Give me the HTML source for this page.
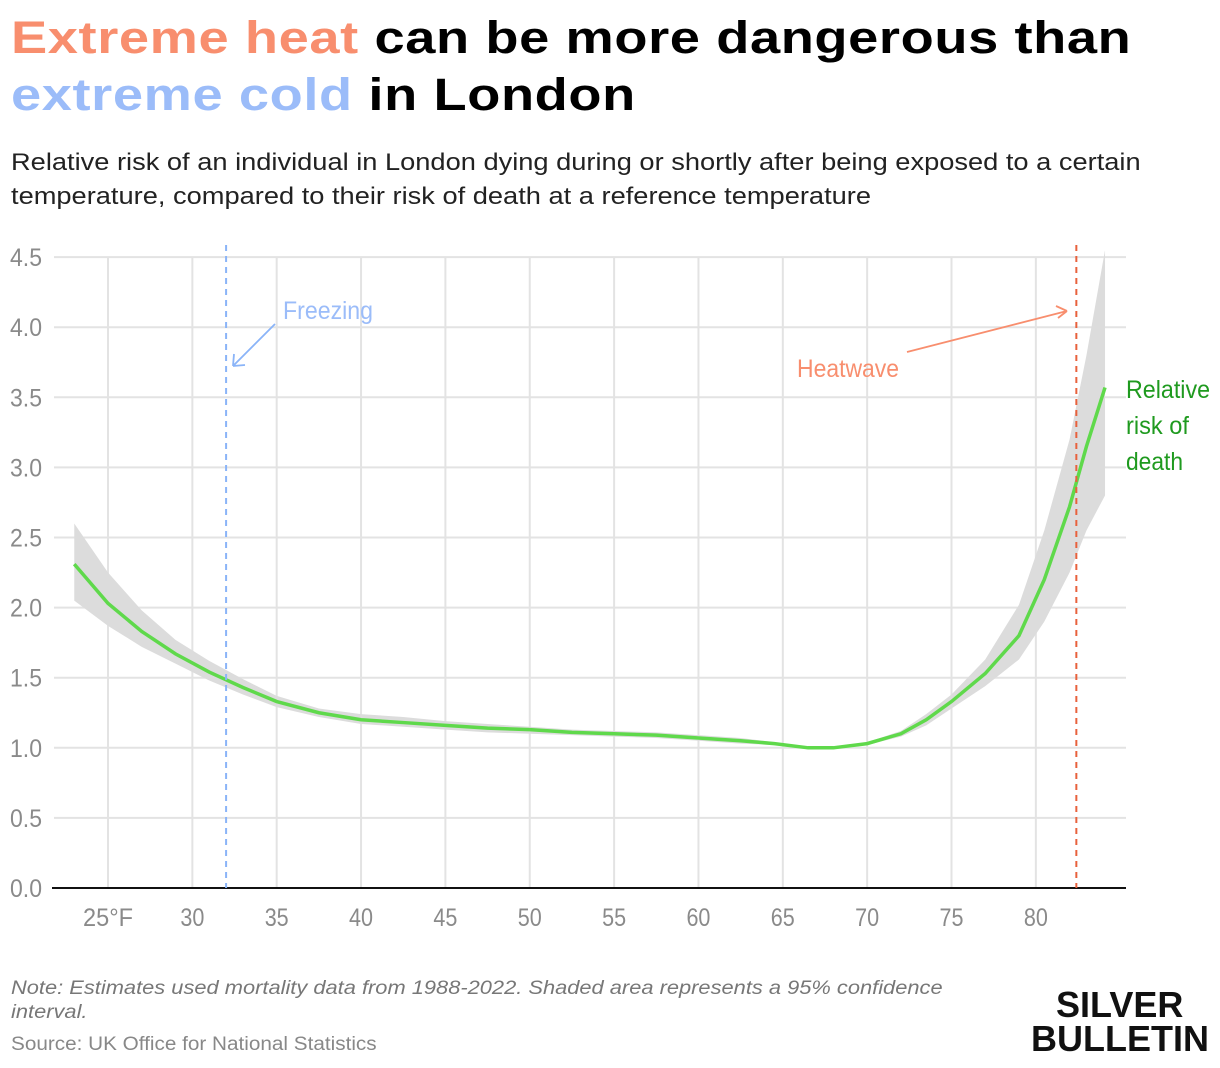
<!DOCTYPE html>
<html><head><meta charset="utf-8"><style>
body{margin:0;background:#fff;width:1220px;height:1068px;overflow:hidden;font-family:"Liberation Sans",sans-serif}
.t{position:absolute;left:11px;font-weight:bold;font-size:45px;letter-spacing:0.5px;color:#000;white-space:nowrap;transform:scaleX(1.205);transform-origin:left}
</style></head><body>
<div class="t" style="top:12px"><span style="color:#f88e6e">Extreme heat</span> can be more dangerous than</div>
<div class="t" style="top:69px"><span style="color:#9bbcf9">extreme cold</span> in London</div>
<div style="position:absolute;left:11px;top:146px;font-size:24px;line-height:34px;color:#222;white-space:nowrap;transform:scaleX(1.135);transform-origin:left">Relative risk of an individual in London dying during or shortly after being exposed to a certain<br>temperature, compared to their risk of death at a reference temperature</div>
<svg id="chart" width="1220" height="1068" style="position:absolute;left:0;top:0"></svg>
<div style="position:absolute;left:11px;top:977px;font-size:19px;font-style:italic;color:#777;line-height:24px;white-space:nowrap;transform:scaleX(1.15);transform-origin:left">Note: Estimates used mortality data from 1988-2022. Shaded area represents a 95% confidence<br>interval.</div>
<div style="position:absolute;left:11px;top:1034px;font-size:19px;color:#888;white-space:nowrap;transform:scaleX(1.09);transform-origin:left">Source: UK Office for National Statistics</div>
<div style="position:absolute;left:1031px;top:988px;font-size:36px;font-weight:bold;line-height:34px;color:#111;white-space:nowrap;transform:scaleX(1.0);transform-origin:left"><span style="padding-left:25px">SILVER</span><br>BULLETIN</div>
<script>
const temps=[23,25,27,29,31,33,35,37.5,40,42.5,45,47.5,50,52.5,55,57.5,60,62.5,64.5,66.5,68,70,72,73.5,75,77,79,80.5,82,83,84.1];
const risk=[2.31,2.03,1.83,1.67,1.54,1.43,1.33,1.25,1.2,1.18,1.16,1.14,1.13,1.11,1.1,1.09,1.07,1.05,1.03,1.0,1.0,1.03,1.1,1.2,1.33,1.53,1.8,2.2,2.72,3.15,3.57];
const upper=[2.6,2.25,1.98,1.77,1.62,1.49,1.37,1.28,1.24,1.22,1.19,1.17,1.15,1.13,1.12,1.11,1.09,1.07,1.04,1.01,1.01,1.04,1.12,1.24,1.38,1.63,2.02,2.55,3.2,3.8,4.55];
const lower=[2.05,1.87,1.72,1.6,1.48,1.38,1.29,1.22,1.17,1.15,1.13,1.11,1.1,1.09,1.08,1.07,1.05,1.03,1.02,0.99,0.99,1.02,1.08,1.16,1.28,1.44,1.63,1.9,2.25,2.55,2.8];
const xTicks=[25,30,35,40,45,50,55,60,65,70,75,80];
const yTicks=[0,0.5,1,1.5,2,2.5,3,3.5,4,4.5];
const freezeT=32, heatT=82.4;
const X=t=>108+(t-25)*16.87, Y=v=>888-v*140.2;
const svg=document.getElementById('chart'),NS='http://www.w3.org/2000/svg';
function mk(tag,a,name){const e=document.createElementNS(NS,tag);for(const k in a)e.setAttribute(k,a[k]);


svg.appendChild(e);return e;}
yTicks.forEach(v=>{mk('line',{x1:54,x2:1126,y1:Y(v),y2:Y(v),stroke:'#e3e3e3','stroke-width':2},'y-gridline');
const t=mk('text',{x:42,y:Y(v)+9,'text-anchor':'end','font-size':25,fill:'#8a8a8a',textLength:32,lengthAdjust:'spacingAndGlyphs'},'y-tick-label');t.textContent=v.toFixed(1);});
xTicks.forEach(v=>{mk('line',{x1:X(v),x2:X(v),y1:Y(4.5),y2:Y(0),stroke:'#e3e3e3','stroke-width':2},'x-gridline');
const t=mk('text',{x:X(v),y:926,'text-anchor':'middle','font-size':25,fill:'#8a8a8a',textLength:v===25?50:24,lengthAdjust:'spacingAndGlyphs'},'x-tick-label');t.textContent=v===25?'25°F':v;});
mk('line',{x1:52,x2:1126,y1:Y(0),y2:Y(0),stroke:'#111','stroke-width':2},'x-axis');
let d='M'+temps.map((t,i)=>X(t)+','+Y(upper[i])).join('L')+'L'+temps.map((t,i)=>X(t)+','+Y(lower[i])).reverse().join('L')+'Z';
mk('path',{d,fill:'#dcdcdc'},'confidence-band');
mk('path',{d:'M'+temps.map((t,i)=>X(t)+','+Y(risk[i])).join('L'),fill:'none',stroke:'#5fd94b','stroke-width':3.5},'risk-line');
mk('line',{x1:X(freezeT),x2:X(freezeT),y1:245,y2:888,stroke:'#8ab4f8','stroke-width':2,'stroke-dasharray':'6,5'},'freezing-line');
mk('line',{x1:X(heatT),x2:X(heatT),y1:245,y2:888,stroke:'#e8613c','stroke-width':2,'stroke-dasharray':'6,5'},'heatwave-line');
mk('path',{d:'M275,324L233,366M233,366L234,354M233,366L245,365',fill:'none',stroke:'#8ab4f8','stroke-width':1.8},'freezing-arrow');
mk('path',{d:'M907,352L1067,311M1067,311L1056,306M1067,311L1058,318',fill:'none',stroke:'#f88e6e','stroke-width':1.8},'heatwave-arrow');
const f=mk('text',{x:283,y:319,'font-size':25,fill:'#9bbcf9',textLength:90,lengthAdjust:'spacingAndGlyphs'},'freezing-label');f.textContent='Freezing';
const h=mk('text',{x:797,y:377,'font-size':25,fill:'#f88e6e',textLength:102,lengthAdjust:'spacingAndGlyphs'},'heatwave-label');h.textContent='Heatwave';
[['Relative',84],['risk of',63],['death',57]].forEach((s,i)=>{const t=mk('text',{x:1126,y:398+i*36,'font-size':25,fill:'#1f9a1f',textLength:s[1],lengthAdjust:'spacingAndGlyphs'},'series-label');t.textContent=s[0];});
</script>
</body></html>
